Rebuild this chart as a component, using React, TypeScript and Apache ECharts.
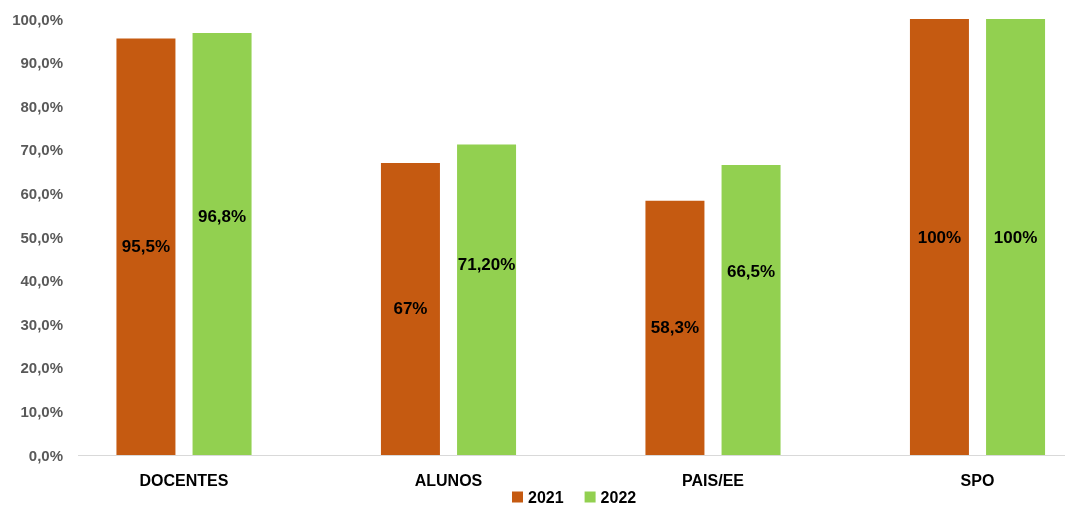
import React, { useEffect, useRef } from "react";
import * as echarts from "echarts";

const categories = ["DOCENTES", "ALUNOS", "PAIS/EE", "SPO"];
const values2021 = [95.5, 67, 58.3, 100];
const values2022 = [96.8, 71.2, 66.5, 100];
const labels2021 = ["95,5%", "67%", "58,3%", "100%"];
const labels2022 = ["96,8%", "71,20%", "66,5%", "100%"];
const yTicks = [0, 10, 20, 30, 40, 50, 60, 70, 80, 90, 100];

const labelOffsets2022 = [
  [0, -27],
  [0, -35],
  [0, -39],
  [0, 0],
];

const FONT = "'Liberation Sans', Arial, sans-serif";

export default function App() {
  const ref = useRef<HTMLDivElement>(null);
  useEffect(() => {
    if (!ref.current) return;
    const chart = echarts.init(ref.current, null, { renderer: "svg" });
    const labelStyle = {
      show: true,
      position: "inside",
      color: "#000000",
      fontWeight: "bold",
      fontSize: 17,
      fontFamily: FONT,
    };
    chart.setOption({
      animation: false,
      textStyle: { fontFamily: FONT },
      grid: { left: 184, top: 19, right: 89.5, height: 436 },
      legend: {
        left: 512,
        top: 489,
        padding: 0,
        itemWidth: 11,
        itemHeight: 11,
        itemGap: 21,
        icon: "rect",
        textStyle: {
          color: "#000000",
          fontWeight: "bold",
          fontSize: 16,
          lineHeight: 16,
          fontFamily: FONT,
        },
        data: ["2021", "2022"],
      },
      xAxis: {
        type: "category",
        data: categories,
        boundaryGap: false,
        axisLine: { show: false },
        axisTick: { show: false },
        axisLabel: {
          color: "#000000",
          fontWeight: "bold",
          fontSize: 16,
          fontFamily: FONT,
          margin: 17,
        },
      },
      yAxis: {
        type: "value",
        min: 0,
        max: 100,
        interval: 10,
        axisLine: { show: false },
        axisTick: { show: false },
        splitLine: { show: false },
        axisLabel: {
          color: "#595959",
          fontWeight: "bold",
          fontSize: 15,
          fontFamily: FONT,
          margin: 121,
          formatter: (v: number) =>
            yTicks.includes(v) ? v.toFixed(1).replace(".", ",") + "%" : "",
        },
      },
      graphic: [
        {
          type: "line",
          shape: { x1: 78, y1: 455.5, x2: 1065, y2: 455.5 },
          style: { stroke: "#d9d9d9", lineWidth: 1 },
          z: 0,
        },
      ],
      series: [
        {
          name: "2021",
          type: "bar",
          clip: false,
          barWidth: 59,
          barGap: "29%",
          itemStyle: { color: "#C55A11" },
          data: values2021.map((v, i) => ({
            value: v,
            label: { ...labelStyle, formatter: labels2021[i] },
          })),
        },
        {
          name: "2022",
          type: "bar",
          clip: false,
          barWidth: 59,
          itemStyle: { color: "#92D050" },
          data: values2022.map((v, i) => ({
            value: v,
            label: { ...labelStyle, formatter: labels2022[i], offset: labelOffsets2022[i] },
          })),
        },
      ],
    });
    return () => chart.dispose();
  }, []);
  return (
    <div
      ref={ref}
      style={{ position: "fixed", left: 0, top: 0, width: 1067, height: 508 }}
    />
  );
}
